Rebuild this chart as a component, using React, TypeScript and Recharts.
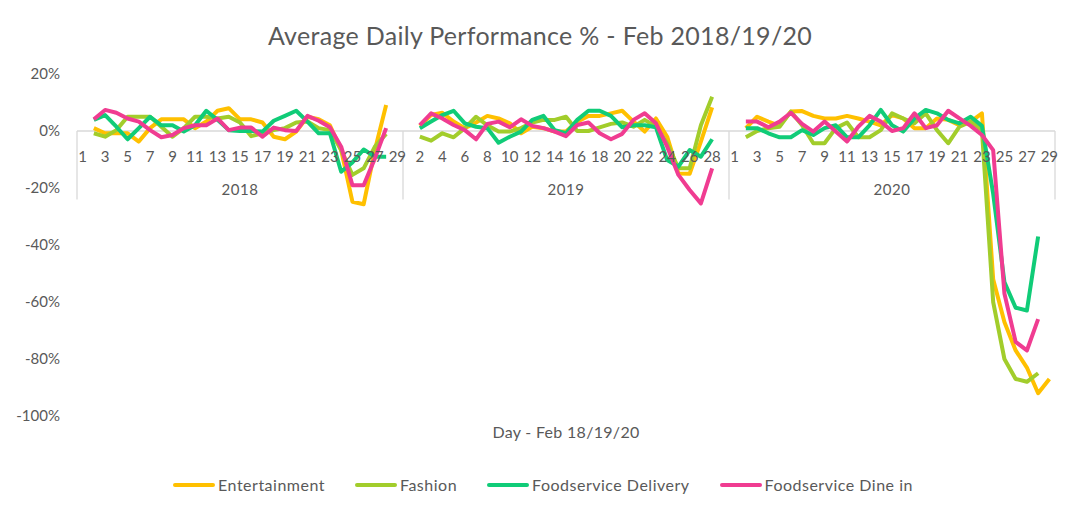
import { LineChart, Line, XAxis, YAxis, ReferenceLine } from 'recharts'

const years = ['2018', '2019', '2020']
const daysPerYear = 29
const yTicks = [-100, -80, -60, -40, -20, 0, 20]

// values per day, index 0 = day 1 (null = no data)
const entertainment2018 = [null, 1, -0.8, -0.8, -0.8, -3.7, 1, 4.1, 4.1, 4.1, 1, 3.3, 7.1, 8, 4.1, 4.1, 3, -2, -2.9, -0.2, 5, 4.1, 2, -6.7, -24.8, -25.7, -6.7, 9.1, null]
const fashion2018 = [null, -0.8, -2, 0.3, 5, 5, 5, 1.5, -2, 1, 5, 5, 4.4, 5, 3, -1.8, -0.8, 0.3, 1, 3, 3.3, 1, 0.3, -6.7, -15.4, -13.1, -5.5, -1, null]
const delivery2018 = [null, 3.9, 5.6, 1.5, -2.9, 1, 5, 2, 2, -0.2, 2, 7.1, 3.9, 0.3, 0, 0, -0.2, 3.6, 5.3, 7.1, 3.3, -0.8, -0.8, -14.3, -11, -6.5, -9, -9, null]
const dineIn2018 = [null, 4.1, 7.4, 6.4, 4.4, 3.3, 0.3, -2.2, -1.4, 1, 2, 2, 4.4, 0.3, 1.2, 1.2, -2, 1.2, 0.3, 0, 5.3, 3.6, 1.3, -5.5, -19, -19, -9.6, 1, null]

const entertainment2019 = [null, 1.8, 5.6, 6.4, 3.3, 1, 3, 5.3, 4.4, 2.7, -0.8, 1.5, 1, -0.2, -0.2, 3.3, 5.3, 5.3, 6.2, 7.1, 3.3, -0.2, 4.4, -2, -14.9, -15, -3.7, 8.3, null]
const fashion2019 = [null, -2, -3.4, -0.8, -2.2, 1, 5, 2, -0.2, -0.2, 1, 3, 3.9, 3.9, 5, 0, 0, 1.3, 2.5, 3, 1.5, 3.9, 1.5, -4.3, -13.1, -13.1, 2, 12, null]
const delivery2019 = [null, 1, 3.3, 5.6, 7.1, 2.7, 1.5, 1, -4.1, -2, -0.2, 3.9, 5.3, 0.3, -0.8, 3.9, 7.1, 7.1, 5.3, 1.3, 2, 2, 1.3, -10.2, -12.5, -6.7, -9, -2.9, null]
const dineIn2019 = [null, 2.1, 6.2, 4.4, 2.1, 0.3, -2.9, 2.5, 3.3, 1.3, 4.1, 1.8, 1, -0.2, -1.8, 2.1, 3, -0.8, -2.9, -1, 3.9, 6.2, 2.7, -5.5, -15.4, -20.7, -25.4, -13.1, null]

const entertainment2020 = [null, 1, 5, 3.3, 1.8, 6.8, 7, 5.3, 4.4, 4.4, 5.3, 4.4, 3.3, 2, 5.6, 4.4, 1, 1, 4.4, 3.9, 2, 3.3, 6.2, -52, -67, -77, -83, -92, -87]
const fashion2020 = [null, -2.2, 0, 1, 1.5, 6.8, 2, -4.3, -4.3, 1, 3, -2.2, -2.2, 0.3, 6.2, 4.4, 2.7, 6.2, 0.3, -4.3, 1.5, 3.3, 0.3, -60, -80, -87, -88, -85, null]
const delivery2020 = [null, 1, 1, -0.8, -2.2, -2.2, 0.3, -1.4, 1, 2, -2.2, -2.2, 2, 7.4, 2, -0.2, 4.4, 7.4, 6.2, 3.9, 2.7, 5, 1.8, -22, -53, -62, -63, -37, null]
const dineIn2020 = [null, 3.3, 3.3, 1.3, 3.3, 6.4, 2.5, -0.2, 3.3, -0.2, -3.7, 1.5, 5.3, 3.3, 0, 1, 6.2, 1, 2, 7.1, 4.4, 1.8, -1.4, -6.7, -57, -74, -77, -66, null]

const series = [
  { key: 'ent', name: 'Entertainment', color: '#FFC000', values: [entertainment2018, entertainment2019, entertainment2020] },
  { key: 'fas', name: 'Fashion', color: '#A2CD2B', values: [fashion2018, fashion2019, fashion2020] },
  { key: 'del', name: 'Foodservice Delivery', color: '#10CC78', values: [delivery2018, delivery2019, delivery2020] },
  { key: 'din', name: 'Foodservice Dine in', color: '#F03C91', values: [dineIn2018, dineIn2019, dineIn2020] },
]

const data = years.flatMap((year, y) =>
  Array.from({ length: daysPerYear }, (_, d) => {
    const row: Record<string, number | string | null> = { i: y * daysPerYear + d, day: d + 1, year }
    series.forEach((s) => {
      row[s.key] = s.values[y][d]
    })
    return row
  })
)

const total = years.length * daysPerYear
const dayTicks = Array.from({ length: Math.ceil(total / 2) }, (_, k) => k * 2)
const yearTicks = years.map((_, y) => y * daysPerYear + (daysPerYear - 1) / 2)
const separators = Array.from({ length: years.length + 1 }, (_, y) => y * daysPerYear - 0.5)

const W = 1080
const H = 515
const TOP = 74
const BOTTOM = 99
const ZERO_Y = TOP + ((H - TOP - BOTTOM) * 20) / 120
const GREY = '#595959'
const FONT = 'Lato, "Open Sans", sans-serif'

function DayTick({ x, payload }: any) {
  return (
    <text x={x} y={ZERO_Y + 31} textAnchor="middle" fontSize={15} fill={GREY} fontFamily={FONT}>
      {(payload.value % daysPerYear) + 1}
    </text>
  )
}

function YearTick({ x, payload }: any) {
  return (
    <text x={x} y={ZERO_Y + 64} textAnchor="middle" fontSize={15} fill={GREY} fontFamily={FONT} letterSpacing={0.5}>
      {years[Math.floor(payload.value / daysPerYear)]}
    </text>
  )
}

export default function App() {
  return (
    <div style={{ position: 'absolute', left: 0, top: 0, width: W, height: H, background: '#fff', fontFamily: FONT }}>
      <div style={{ position: 'absolute', top: 21, width: W, textAlign: 'center', fontSize: 25, color: GREY, lineHeight: '28px', letterSpacing: 0.3 }}>
        Average Daily Performance % - Feb 2018/19/20
      </div>
      <LineChart width={W} height={H} data={data} margin={{ top: TOP, right: 25, bottom: BOTTOM - 2, left: 0 }}>
        <YAxis
          type="number"
          domain={[-100, 20]}
          ticks={yTicks}
          width={77}
          axisLine={false}
          tickLine={false}
          tickMargin={11}
          tickFormatter={(v) => `${v}%`}
          tick={{ fontSize: 15, fill: GREY, fontFamily: FONT }}
        />
        <XAxis
          xAxisId="day"
          type="number"
          dataKey="i"
          domain={[-0.5, total - 0.5]}
          ticks={dayTicks}
          interval={0}
          height={1}
          axisLine={false}
          tickLine={false}
          tick={DayTick}
        />
        <XAxis
          xAxisId="year"
          type="number"
          dataKey="i"
          domain={[-0.5, total - 0.5]}
          ticks={yearTicks}
          interval={0}
          height={1}
          axisLine={false}
          tickLine={false}
          tick={YearTick}
        />
        <ReferenceLine xAxisId="day" y={0} stroke="#D9D9D9" strokeWidth={1.3} />
        {separators.map((sx) => (
          <ReferenceLine
            key={sx}
            xAxisId="day"
            segment={[
              { x: sx, y: 0 },
              { x: sx, y: -24 },
            ]}
            stroke="#D9D9D9"
            strokeWidth={1.3}
          />
        ))}
        {series.map((s) => (
          <Line
            key={s.key}
            xAxisId="day"
            type="linear"
            dataKey={s.key}
            name={s.name}
            stroke={s.color}
            strokeWidth={4}
            strokeLinejoin="round"
            dot={false}
            activeDot={false}
            connectNulls={false}
            isAnimationActive={false}
          />
        ))}
      </LineChart>
      <div style={{ position: 'absolute', top: 421, left: 77, width: 978, textAlign: 'center', fontSize: 16, color: GREY, lineHeight: '22px', letterSpacing: 0.3 }}>
        Day - Feb 18/19/20
      </div>
      <div style={{ position: 'absolute', top: 474, left: 0, width: W, display: 'flex', justifyContent: 'center', gap: 30, paddingLeft: 6, boxSizing: 'border-box' }}>
        {series.map((s) => (
          <div key={s.key} style={{ display: 'flex', alignItems: 'center', gap: 3 }}>
            <span style={{ display: 'inline-block', width: 42, height: 4, borderRadius: 2, background: s.color }} />
            <span style={{ fontSize: 16, color: GREY, lineHeight: '22px', letterSpacing: 0.5 }}>{s.name}</span>
          </div>
        ))}
      </div>
    </div>
  )
}
